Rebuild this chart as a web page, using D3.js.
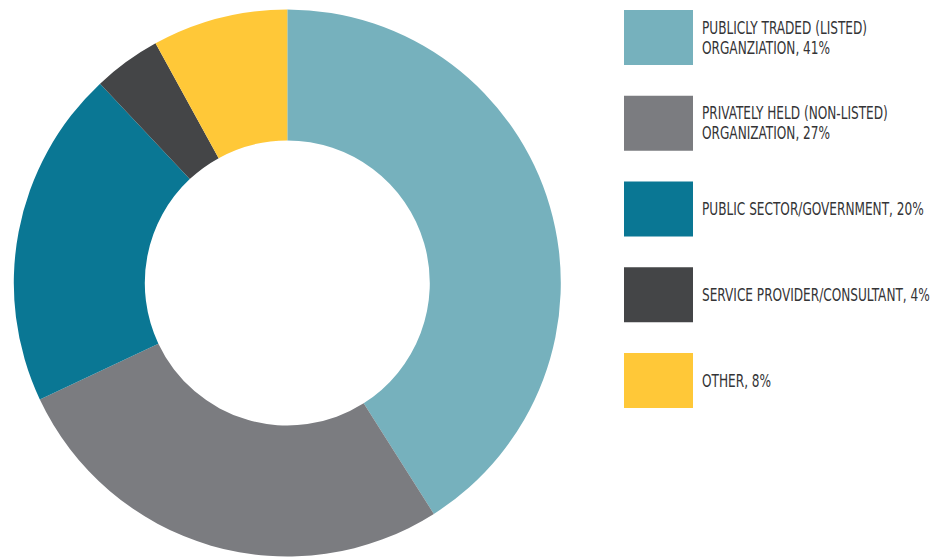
<!DOCTYPE html>
<html>
<head>
<meta charset="utf-8">
<script src="https://cdn.jsdelivr.net/npm/d3@7"></script>
<style>
  html, body { margin: 0; padding: 0; background: #fff; }
  svg { display: block; }
</style>
</head>
<body>
<svg id="chart" width="945" height="557"></svg>
<script>
// Organization types of respondents (share in percent)
const categories = [
  "PUBLICLY TRADED (LISTED)|ORGANZIATION",
  "PRIVATELY HELD (NON-LISTED)|ORGANIZATION",
  "PUBLIC SECTOR/GOVERNMENT",
  "SERVICE PROVIDER/CONSULTANT",
  "OTHER"
];
const values = [41, 27, 20, 4, 8];
const colors = ["#76B1BD", "#7B7C80", "#0A7794", "#444547", "#FFC838"];

const svg = d3.select("#chart");

// Donut
const cx = 287.3, cy = 283, outerR = 273.5, innerR = 142.5;
const pie = d3.pie().sort(null).value(d => d.value);
const arc = d3.arc().innerRadius(innerR).outerRadius(outerR);
const data = values.map((v, i) => ({ name: categories[i], value: v, color: colors[i] }));

svg.append("g")
  .attr("transform", `translate(${cx},${cy})`)
  .selectAll("path")
  .data(pie(data))
  .join("path")
  .attr("d", arc)
  .attr("fill", d => d.data.color);

// Legend
const legX = 624, legY = 10, swW = 69, swH = 55, step = 85.75;
const textX = 702, lineH = 20, widestLine = 228; // condensed label column

const items = svg.append("g")
  .selectAll("g")
  .data(data)
  .join("g")
  .attr("transform", (d, i) => `translate(0,${legY + i * step})`);

items.append("rect")
  .attr("x", legX)
  .attr("width", swW)
  .attr("height", swH)
  .attr("fill", d => d.color);

const labels = items.append("text")
  .attr("font-family", "'Liberation Sans Narrow', 'DejaVu Sans Condensed', sans-serif")
  .attr("font-size", 17)
  .attr("fill", "#343436")
  .each(function (d) {
    const lines = d.name.split("|");
    lines[lines.length - 1] += `, ${d.value}%`;
    const mid = swH / 2;
    const first = mid - (lines.length - 1) * lineH / 2;
    const t = d3.select(this);
    lines.forEach((ln, k) => {
      t.append("tspan")
        .attr("x", 0)
        .attr("y", first + k * lineH)
        .attr("dy", "0.36em")
        .text(ln);
    });
  });

// Narrow the labels horizontally so the longest line fits the column
let maxW = 0;
labels.selectAll("tspan").each(function () {
  maxW = Math.max(maxW, this.getComputedTextLength());
});
const squeeze = widestLine / maxW;
labels.attr("transform", `translate(${textX},0) scale(${squeeze},1)`);
</script>
</body>
</html>
